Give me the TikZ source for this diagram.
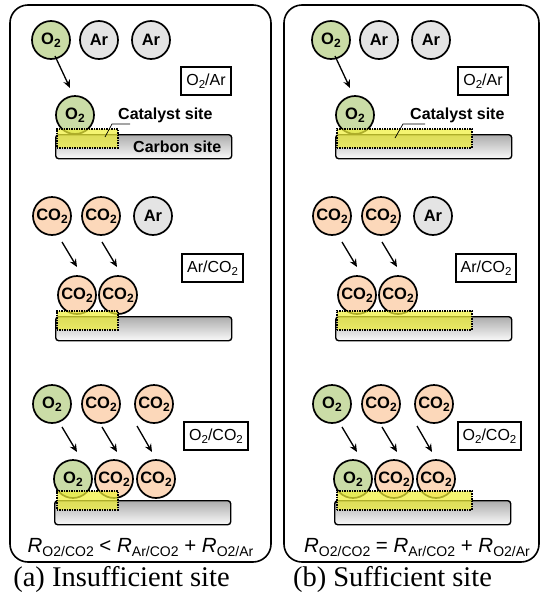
\documentclass[tikz,border=0pt]{standalone}
\usepackage{fontspec}
\setmainfont{Liberation Serif}
\newfontfamily\arial{Liberation Sans}
\usetikzlibrary{arrows.meta}
\definecolor{oxyin}{HTML}{CADCA6}
\definecolor{oxyout}{HTML}{9CBA5E}
\definecolor{carbin}{HTML}{FCD8BA}
\definecolor{carbout}{HTML}{F5B083}
\definecolor{arin}{HTML}{E4E4E4}
\definecolor{arout}{HTML}{BDBDBD}
\definecolor{catyellow}{HTML}{F0F03A}
\pgfdeclareradialshading{oxyshade}{\pgfpoint{0bp}{0bp}}{color(0bp)=(oxyin); color(28bp)=(oxyin); color(50bp)=(oxyout)}
\pgfdeclareradialshading{carbshade}{\pgfpoint{0bp}{0bp}}{color(0bp)=(carbin); color(28bp)=(carbin); color(50bp)=(carbout)}
\pgfdeclareradialshading{arshade}{\pgfpoint{0bp}{0bp}}{color(0bp)=(arin); color(28bp)=(arin); color(50bp)=(arout)}
\newcommand\ssub[1]{\raisebox{-3pt}{\fontsize{11.5}{11.5}\selectfont #1}}
\newcommand\msub[1]{\raisebox{-3.5pt}{\fontsize{12}{12}\selectfont #1}}
\newcommand\esub[1]{\raisebox{-4pt}{\fontsize{14}{14}\selectfont #1}}
\tikzset{
  mol/.style={circle, draw, line width=1.7pt, minimum size=38pt, inner sep=0pt,
    font=\arial\bfseries\fontsize{16.5}{16.5}\selectfont},
  oxy/.style={mol, shading=oxyshade},
  carb/.style={mol, shading=carbshade},
  argon/.style={mol, shading=arshade},
  carbonbar/.style={draw, line width=1.4pt, rounded corners=3pt, top color=gray!65,
    bottom color=white!96!gray, minimum width=176pt, minimum height=24pt,
    inner sep=0pt, anchor=north west},
  catbox/.style={fill=catyellow, fill opacity=0.72, draw=black, draw opacity=1,
    dash pattern=on 1.5pt off 1pt, line width=1.9pt, minimum height=19pt,
    inner sep=0pt, anchor=north west},
  arr/.style={line width=1.3pt, -{Stealth[length=8pt,width=7pt]}},
  gasbox/.style={draw, line width=1.9pt, fill=white, minimum height=28pt,
    inner xsep=5pt, font=\arial\fontsize{16}{16}\selectfont},
  panel/.style={draw, line width=1.6pt, rounded corners=18pt},
  eqn/.style={anchor=base, inner sep=0pt, font=\arial\fontsize{20.5}{20.5}\selectfont},
  caption/.style={anchor=base, inner sep=0pt, font=\fontsize{28.5}{28.5}\selectfont},
  lbl/.style={anchor=base west, inner sep=0pt, font=\arial\bfseries\fontsize{16}{16}\selectfont},
  leader/.style={line width=0.7pt}
}
\newcommand\panelrows[2]{%
  % row 1
  \node[oxy] (ta#1) at (51,40) {O\msub{2}};
  \node[argon] (tb#1) at (99,40) {Ar};
  \node[argon] (tc#1) at (151,40) {Ar};
  \coordinate (sa#1) at (55,56); \coordinate (ea#1) at (70,88);
  \draw[arr] (sa#1) -- (ea#1);
  \node[carbonbar] (bara#1) at (55,134) {};
  \node[oxy] (da#1) at (75,115) {O\msub{2}};
  \node[catbox, minimum width=#2] (cata#1) at (56,128) {};
  % row 2
  \node[carb] (ua#1) at (52,216) {CO\msub{2}};
  \node[carb] (ub#1) at (101,216) {CO\msub{2}};
  \node[argon] (uc#1) at (153,216) {Ar};
  \coordinate (sb#1) at (62,242); \coordinate (eb#1) at (77,267);
  \coordinate (sc#1) at (102,242); \coordinate (ec#1) at (117,267);
  \draw[arr] (sb#1) -- (eb#1);
  \draw[arr] (sc#1) -- (ec#1);
  \node[carbonbar] (barb#1) at (55,316) {};
  \node[carb] (db#1) at (77,295) {CO\msub{2}};
  \node[carb] (dc#1) at (118,295) {CO\msub{2}};
  \node[catbox, minimum width=#2] (catb#1) at (56,310) {};
  % row 3
  \node[oxy] (va#1) at (52,404) {O\msub{2}};
  \node[carb] (vb#1) at (101,404) {CO\msub{2}};
  \node[carb] (vc#1) at (154,404) {CO\msub{2}};
  \coordinate (sd#1) at (62,427); \coordinate (ed#1) at (77,452);
  \coordinate (se#1) at (102,427); \coordinate (ee#1) at (117,452);
  \coordinate (sf#1) at (137,426); \coordinate (ef#1) at (152,452);
  \draw[arr] (sd#1) -- (ed#1);
  \draw[arr] (se#1) -- (ee#1);
  \draw[arr] (sf#1) -- (ef#1);
  \node[carbonbar] (barc#1) at (54,500) {};
  \node[oxy] (dd#1) at (73,479) {O\msub{2}};
  \node[carb] (de#1) at (114,479) {CO\msub{2}};
  \node[carb] (df#1) at (156,479) {CO\msub{2}};
  \node[catbox, minimum width=#2] (catc#1) at (56,490) {};
}
\begin{document}
\begin{tikzpicture}[x=1pt, y=-1pt]
\useasboundingbox (0,0) rectangle (541,595);
% panels
\draw[panel] (10,5) rectangle (271,562);
\draw[panel] (284,5) rectangle (539,562);
% panel contents
\panelrows{L}{61}
\begin{scope}[xshift=280pt]
\panelrows{R}{135}
\end{scope}
% gas boxes
\node[gasbox] (gaL1) at (206,81) {O\ssub{2}/Ar};
\node[gasbox] (gaR1) at (483,81) {O\ssub{2}/Ar};
\node[gasbox] (gaL2) at (212.5,268) {Ar/CO\ssub{2}};
\node[gasbox] (gaR2) at (486,268) {Ar/CO\ssub{2}};
\node[gasbox] (gaL3) at (216,436) {O\ssub{2}/CO\ssub{2}};
\node[gasbox] (gaR3) at (489.5,436) {O\ssub{2}/CO\ssub{2}};
% catalyst / carbon labels
\node[lbl] (catlblL) at (118,119) {Catalyst site};
\node[lbl] (carblbl) at (133,152) {Carbon site};
\node[lbl] (catlblR) at (410,119) {Catalyst site};
\coordinate (lka) at (105,137); \coordinate (lkb) at (112,124); \coordinate (lkc) at (130,124);
\draw[leader] (lka) -- (lkb) -- (lkc);
\coordinate (lkd) at (395,138); \coordinate (lke) at (403,124); \coordinate (lkf) at (425,124);
\draw[leader] (lkd) -- (lke) -- (lkf);
% equations
\node[eqn] (eqL) at (140.5,552) {\textit{R}\esub{O2/CO2} < \textit{R}\esub{Ar/CO2} + \textit{R}\esub{O2/Ar}};
\node[eqn] (eqR) at (417,552) {\textit{R}\esub{O2/CO2} = \textit{R}\esub{Ar/CO2} + \textit{R}\esub{O2/Ar}};
% captions
\node[caption] (capL) at (121.5,586) {(a) Insufficient site};
\node[caption] (capR) at (392.5,586) {(b) Sufficient site};
\end{tikzpicture}
\end{document}
